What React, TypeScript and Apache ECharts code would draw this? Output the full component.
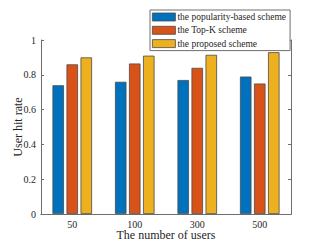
import React, { useEffect, useRef } from "react";
import * as echarts from "echarts";

const categories = ["50", "100", "300", "500"];
const popularity = [0.74, 0.76, 0.77, 0.79];
const topK = [0.86, 0.865, 0.84, 0.75];
const proposed = [0.9, 0.91, 0.915, 0.93];
const seriesNames = ["the popularity-based scheme", "the Top-K scheme", "the proposed scheme"];
const colors = ["#0072BD", "#D95319", "#EDB120"];

export default function App() {
  const ref = useRef<HTMLDivElement>(null);
  useEffect(() => {
    const chart = echarts.init(ref.current!, null, { renderer: "svg" });
    const axisColor = "#6e6e6e";
    const font = "Liberation Serif";
    const mkBar = (name: string, data: number[], i: number) => ({
      name,
      type: "bar",
      data,
      barWidth: 11.5,
      barGap: "22%",
      itemStyle: { color: colors[i], borderColor: "#4a4a4a", borderWidth: 0.8 },
    });
    chart.setOption({
      animation: false,
      backgroundColor: "#fff",
      color: colors,
      grid: { left: 41, right: 30, top: 40, bottom: 27, containLabel: false, outerBoundsMode: "none" },
      legend: {
        orient: "vertical",
        left: 150,
        top: 10,
        padding: [2, 4, 2, 2],
        itemGap: 3.3,
        itemWidth: 23,
        itemHeight: 8,
        icon: "rect",
        backgroundColor: "#fff",
        borderColor: "#6e6e6e",
        borderWidth: 1,
        z: 10,
        textStyle: { fontFamily: font, fontSize: 9.5, color: "#262626", padding: [0, 0, 0, -3], lineHeight: 9 },
        itemStyle: { borderColor: "#4a4a4a", borderWidth: 0.8 },
        data: seriesNames,
      },
      xAxis: [
        {
          type: "category",
          data: categories,
          name: "The number of users",
          nameLocation: "middle",
          nameGap: 15,
          nameMoveOverlap: false,
          nameTextStyle: { fontFamily: font, fontSize: 12, color: "#262626" },
          axisLine: { lineStyle: { color: axisColor, width: 1 } },
          axisTick: { inside: true, length: 3, alignWithLabel: true, lineStyle: { color: axisColor } },
          axisLabel: { fontFamily: font, fontSize: 10, color: "#262626", margin: 5 },
        },
        {
          type: "category",
          data: categories,
          position: "top",
          axisLine: { lineStyle: { color: axisColor, width: 1 } },
          axisTick: { inside: true, length: 3, alignWithLabel: true, lineStyle: { color: axisColor } },
          axisLabel: { show: false },
        },
      ],
      yAxis: [
        {
          type: "value",
          min: 0,
          max: 1,
          interval: 0.2,
          name: "User hit rate",
          nameLocation: "middle",
          nameGap: 17,
          nameMoveOverlap: false,
          nameTextStyle: { fontFamily: font, fontSize: 12, color: "#262626" },
          axisLine: { show: true, lineStyle: { color: axisColor, width: 1 } },
          axisTick: { show: true, inside: true, length: 3, lineStyle: { color: axisColor } },
          axisLabel: {
            fontFamily: font,
            fontSize: 10,
            color: "#262626",
            margin: 5,
            formatter: (v: number) => (v === 0 ? "0" : v === 1 ? "1" : String(Math.round(v * 10) / 10)),
          },
          splitLine: { show: false },
        },
        {
          type: "value",
          min: 0,
          max: 1,
          interval: 0.2,
          position: "right",
          axisLine: { show: true, lineStyle: { color: axisColor, width: 1 } },
          axisTick: { show: true, inside: true, length: 3, lineStyle: { color: axisColor } },
          axisLabel: { show: false },
          splitLine: { show: false },
        },
      ],
      series: [mkBar(seriesNames[0], popularity, 0), mkBar(seriesNames[1], topK, 1), mkBar(seriesNames[2], proposed, 2)],
    });
    return () => chart.dispose();
  }, []);
  return <div ref={ref} style={{ width: 321, height: 241, position: "fixed", left: 0, top: 0 }} />;
}
